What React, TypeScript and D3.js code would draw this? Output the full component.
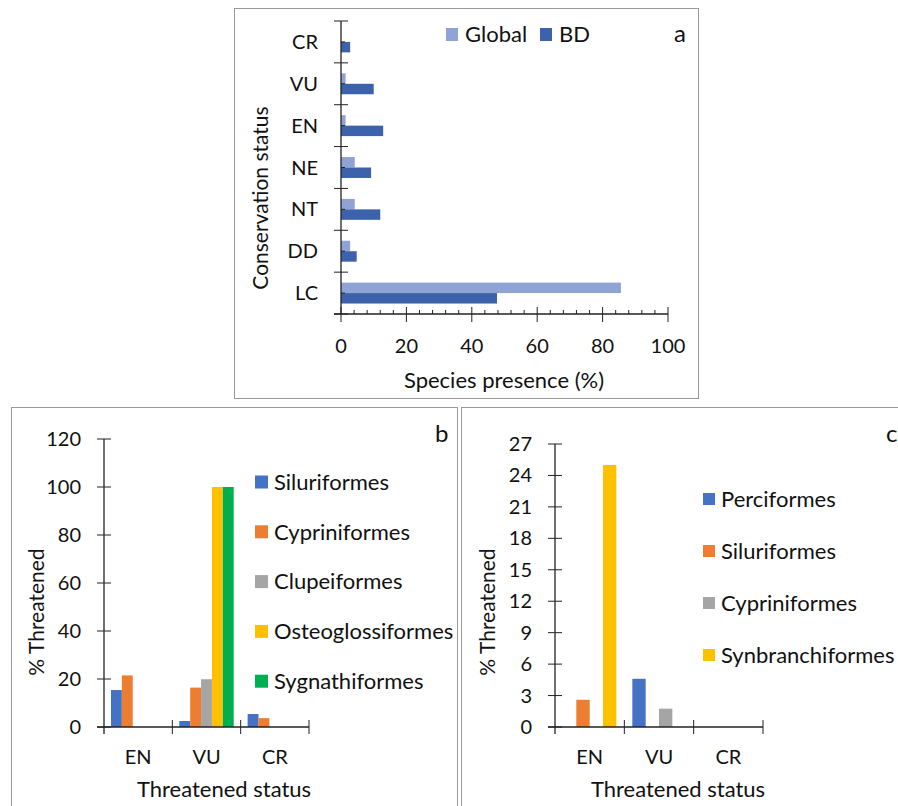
import { useRef, useEffect } from "react";
import * as d3 from "d3";

// panel a: conservation status
const statusA = ["CR", "VU", "EN", "NE", "NT", "DD", "LC"];
const seriesA = ["Global", "BD"];
const globalVals = [0, 1.4, 1.4, 4.2, 4.2, 2.8, 85.6];
const bdVals = [2.8, 10, 12.9, 9.2, 12, 4.8, 47.7];
const colorsA = ["#8FA3D5", "#3C62AC"];

// panel b: threatened, orders
const statusBC = ["EN", "VU", "CR"];
const ordersB = ["Siluriformes", "Cypriniformes", "Clupeiformes", "Osteoglossiformes", "Sygnathiformes"];
const valsB = [
  [15.4, 2.5, 5.4],
  [21.5, 16.4, 3.7],
  [0, 19.9, 0],
  [0, 100, 0],
  [0, 100, 0],
];
const colorsB = ["#4472C4", "#ED7D31", "#A5A5A5", "#FFC000", "#00B050"];
const ticksB = [0, 20, 40, 60, 80, 100, 120];

// panel c
const ordersC = ["Perciformes", "Siluriformes", "Cypriniformes", "Synbranchiformes"];
const valsC = [
  [0, 4.6, 0],
  [2.6, 0, 0],
  [0, 1.75, 0],
  [25, 0, 0],
];
const colorsC = ["#4472C4", "#ED7D31", "#A5A5A5", "#FFC000"];
const ticksC = [0, 3, 6, 9, 12, 15, 18, 21, 24, 27];

const FONT = "Lato, 'Open Sans', sans-serif";
const AX = "#222";
const TXT = "#111";

const App = () => {
  const ref = useRef<SVGSVGElement>(null);

  useEffect(() => {
    const svg = d3.select(ref.current);
    svg.selectAll("*").remove();
    svg.style("font-family", FONT);

    // frames
    const frames = [
      [234.5, 8.5, 464, 390],
      [11.5, 407.5, 446, 420],
      [461.5, 407.5, 445, 420],
    ];
    frames.forEach(([x, y, w, h]) =>
      svg.append("rect").attr("x", x).attr("y", y).attr("width", w).attr("height", h)
        .attr("fill", "none").attr("stroke", "#9a9a9a").attr("stroke-width", 1)
    );

    /** panel a */
    const ga = svg.append("g");
    const xA = d3.scaleLinear().domain([0, 100]).range([341, 668]);
    const yA = d3.scaleBand().domain(statusA).range([21, 314]);
    const subA = d3.scaleBand().domain(seriesA).range([0, yA.bandwidth()]).paddingOuter(1);

    [globalVals, bdVals].forEach((vals, si) => {
      ga.append("g").selectAll("rect").data(statusA).enter().append("rect")
        .attr("x", xA(0))
        .attr("y", (d) => (yA(d) as number) + (subA(seriesA[si]) as number))
        .attr("width", (d, i) => xA(vals[i]) - xA(0))
        .attr("height", subA.bandwidth())
        .attr("fill", colorsA[si]);
    });

    // axes a
    ga.append("line").attr("x1", xA(0)).attr("x2", xA(0)).attr("y1", 21).attr("y2", 314).attr("stroke", AX).attr("stroke-width", 1.3);
    ga.append("line").attr("x1", 334).attr("x2", xA(100)).attr("y1", 314).attr("y2", 314).attr("stroke", AX).attr("stroke-width", 1.3);
    const bandEdges = statusA.map((d) => yA(d) as number).concat([314]);
    bandEdges.forEach((y) =>
      ga.append("line").attr("x1", 334).attr("x2", 348).attr("y1", y).attr("y2", y).attr("stroke", AX)
    );
    statusA.forEach((d) => {
      const yc = (yA(d) as number) + yA.bandwidth() / 2;
      ga.append("line").attr("x1", 341).attr("x2", 345).attr("y1", yc).attr("y2", yc).attr("stroke", AX);
      ga.append("text").attr("x", 318).attr("y", yc).attr("dy", "0.35em").attr("text-anchor", "end")
        .attr("font-size", 20).attr("fill", TXT).text(d);
    });
    d3.range(0, 101, 4).forEach((v) => {
      if (v % 20 === 0) return;
      ga.append("line").attr("x1", xA(v)).attr("x2", xA(v)).attr("y1", 310).attr("y2", 314).attr("stroke", AX);
    });
    d3.range(0, 101, 20).forEach((v) => {
      ga.append("line").attr("x1", xA(v)).attr("x2", xA(v)).attr("y1", 307).attr("y2", 322).attr("stroke", AX);
      ga.append("text").attr("x", xA(v)).attr("y", 353).attr("text-anchor", "middle")
        .attr("font-size", 20).attr("fill", TXT).text(v);
    });
    ga.append("text").attr("x", 504).attr("y", 388).attr("text-anchor", "middle")
      .attr("font-size", 22).attr("fill", TXT).text("Species presence (%)");
    ga.append("text").attr("transform", "translate(268,198) rotate(-90)").attr("text-anchor", "middle")
      .attr("font-size", 21).attr("fill", TXT).text("Conservation status");
    // legend a
    const legA = [[446, "Global"], [540, "BD"]] as const;
    legA.forEach(([x, t], i) => {
      ga.append("rect").attr("x", x).attr("y", 28).attr("width", 12).attr("height", 13).attr("fill", colorsA[i]);
      ga.append("text").attr("x", x + 19).attr("y", 42).attr("font-size", 22).attr("fill", TXT).text(t);
    });
    ga.append("text").attr("x", 674).attr("y", 42).attr("font-size", 24).attr("fill", TXT).text("a");

    /** panels b and c */
    const drawPanel = (
      g: d3.Selection<SVGGElement, unknown, null, undefined>,
      cfg: {
        x0: number; x1: number; yTop: number; max: number; ticks: number[];
        series: string[]; vals: number[][]; colors: string[]; pad: number;
        labelRight: number; legX: number; legY0: number; legStep: number; legSize: number;
        titleX: number; letter: string; letterX: number;
      }
    ) => {
      const x = d3.scaleBand().domain(statusBC).range([cfg.x0, cfg.x1]);
      const sub = d3.scaleBand().domain(cfg.series).range([0, x.bandwidth()]).paddingOuter(cfg.pad);
      const y = d3.scaleLinear().domain([0, cfg.max]).range([727, cfg.yTop]);

      cfg.series.forEach((s, si) => {
        g.append("g").selectAll("rect").data(statusBC).enter().append("rect")
          .attr("x", (d) => (x(d) as number) + (sub(s) as number))
          .attr("y", (d, i) => y(cfg.vals[si][i]))
          .attr("width", sub.bandwidth())
          .attr("height", (d, i) => y(0) - y(cfg.vals[si][i]))
          .attr("fill", cfg.colors[si]);
      });

      g.append("line").attr("x1", cfg.x0).attr("x2", cfg.x0).attr("y1", y(cfg.max)).attr("y2", 734).attr("stroke", AX).attr("stroke-width", 1.3);
      g.append("line").attr("x1", cfg.x0 - 7).attr("x2", cfg.x1).attr("y1", 727).attr("y2", 727).attr("stroke", AX).attr("stroke-width", 1.3);
      cfg.ticks.forEach((v) => {
        g.append("line").attr("x1", cfg.x0 - 7).attr("x2", cfg.x0 + 7).attr("y1", y(v)).attr("y2", y(v)).attr("stroke", AX);
        g.append("text").attr("x", cfg.labelRight).attr("y", y(v)).attr("dy", "0.35em").attr("text-anchor", "end")
          .attr("font-size", 20).attr("fill", TXT).text(v);
      });
      statusBC.forEach((d) => {
        const xe = (x(d) as number) + x.bandwidth();
        g.append("line").attr("x1", xe).attr("x2", xe).attr("y1", 720).attr("y2", 734).attr("stroke", AX);
        g.append("text").attr("x", (x(d) as number) + x.bandwidth() / 2).attr("y", 764).attr("text-anchor", "middle")
          .attr("font-size", 20).attr("fill", TXT).text(d);
      });
      g.append("text").attr("x", cfg.titleX).attr("y", 797).attr("text-anchor", "middle")
        .attr("font-size", 22).attr("fill", TXT).text("Threatened status");
      g.append("text").attr("transform", `translate(${cfg.x0 - 60},612) rotate(-90)`).attr("text-anchor", "middle")
        .attr("font-size", 21).attr("fill", TXT).text("% Threatened");
      cfg.series.forEach((s, i) => {
        const yc = cfg.legY0 + i * cfg.legStep;
        g.append("rect").attr("x", cfg.legX).attr("y", yc - cfg.legSize / 2).attr("width", cfg.legSize).attr("height", cfg.legSize)
          .attr("fill", cfg.colors[i]);
        g.append("text").attr("x", cfg.legX + cfg.legSize + 6).attr("y", yc).attr("dy", "0.35em")
          .attr("font-size", 22).attr("fill", TXT).text(s);
      });
      g.append("text").attr("x", cfg.letterX).attr("y", 442).attr("font-size", 24).attr("fill", TXT).text(cfg.letter);
    };

    drawPanel(svg.append("g"), {
      x0: 104, x1: 309, yTop: 439, max: 120, ticks: ticksB,
      series: ordersB, vals: valsB, colors: colorsB, pad: 0.64,
      labelRight: 81, legX: 255, legY0: 482, legStep: 49.8, legSize: 13,
      titleX: 224, letter: "b", letterX: 435,
    });
    drawPanel(svg.append("g"), {
      x0: 555, x1: 763, yTop: 444, max: 27, ticks: ticksC,
      series: ordersC, vals: valsC, colors: colorsC, pad: 0.6,
      labelRight: 532, legX: 703, legY0: 499, legStep: 52, legSize: 12,
      titleX: 678, letter: "c", letterX: 886,
    });
  }, []);

  return (
    <svg
      ref={ref}
      width={898}
      height={806}
      style={{ position: "absolute", left: 0, top: 0, background: "#fff" }}
    />
  );
};

export default App;
